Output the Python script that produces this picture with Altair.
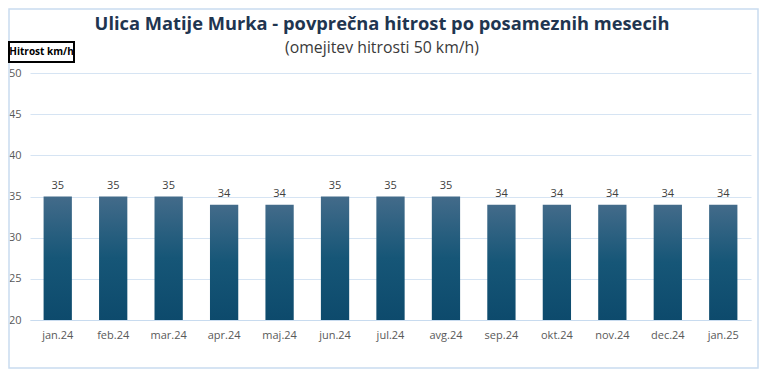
import altair as alt
import pandas as pd

months = ["jan.24", "feb.24", "mar.24", "apr.24", "maj.24", "jun.24", "jul.24",
          "avg.24", "sep.24", "okt.24", "nov.24", "dec.24", "jan.25"]
speeds = [35, 35, 35, 34, 34, 35, 35, 35, 34, 34, 34, 34, 34]
y_ticks = [20, 25, 30, 35, 40, 45, 50]

title_text = "Ulica Matije Murka - povprečna hitrost po posameznih mesecih"
subtitle_text = "(omejitev hitrosti 50 km/h)"
axis_label = "Hitrost km/h"

df = pd.DataFrame({"mesec": months, "hitrost": speeds})
one = pd.DataFrame({"a": [0]})

FONT = "Open Sans"

x_enc = alt.X("mesec:N", sort=months, title=None,
              scale=alt.Scale(paddingInner=0.49, paddingOuter=0.245),
              axis=alt.Axis(labelAngle=0, labelFontSize=11, labelColor="#595959",
                            labelFont=FONT, labelPadding=9, ticks=False,
                            domainColor="#c8dbef", domainWidth=1.2, grid=False))
y_enc = alt.Y("hitrost:Q", title=None,
              scale=alt.Scale(domain=[20, 50], zero=False, nice=False),
              axis=alt.Axis(values=y_ticks, labelFontSize=11, labelColor="#595959",
                            labelFont=FONT, labelPadding=9, ticks=False, domain=False,
                            gridColor="#d6e4f3", gridWidth=1))

gradient = {
    "gradient": "linear", "x1": 0, "y1": 0, "x2": 0, "y2": 1,
    "stops": [
        {"offset": 0, "color": "#436b8a"},
        {"offset": 0.5, "color": "#165677"},
        {"offset": 1, "color": "#0d4a6c"},
    ],
}

bars = alt.Chart(df).mark_bar(color=gradient).encode(
    x=x_enc, y=y_enc, y2=alt.datum(20)
)

labels = alt.Chart(df).mark_text(dy=-11, fontSize=11, color="#404040", font=FONT).encode(
    x=alt.X("mesec:N", sort=months), y="hitrost:Q", text="hitrost:Q"
)

frame = alt.Chart(one).mark_rect(fillOpacity=0, stroke="#c9dcf0", strokeWidth=1.5).encode(
    x=alt.value(-21), x2=alt.value(728), y=alt.value(-64), y2=alt.value(295)
)

box = alt.Chart(one).mark_rect(fill="white", stroke="black", strokeWidth=2).encode(
    x=alt.value(-21), x2=alt.value(44), y=alt.value(-31), y2=alt.value(-11)
)
box_text = alt.Chart(one).mark_text(text=axis_label, fontSize=10, fontWeight="bold",
                                    color="black", font=FONT, baseline="middle").encode(
    x=alt.value(11.5), y=alt.value(-21)
)

title = alt.Chart(one).mark_text(text=title_text, fontSize=18.3, fontWeight="bold",
                                 color="#1f3550", font=FONT, baseline="middle").encode(
    x=alt.value(352), y=alt.value(-48)
)
subtitle = alt.Chart(one).mark_text(text=subtitle_text, fontSize=15.8,
                                    color="#3a3a3a", font=FONT, baseline="middle").encode(
    x=alt.value(352), y=alt.value(-25)
)

chart = alt.layer(frame, bars, labels, box, box_text, title, subtitle).properties(
    width=721, height=247,
    autosize=alt.AutoSizeParams(type="none"),
    padding={"left": 22, "top": 65, "right": 9, "bottom": 50},
    background="white",
).configure_view(stroke=None)

chart.save("out.html", embed_options={"renderer": "svg", "actions": False})
